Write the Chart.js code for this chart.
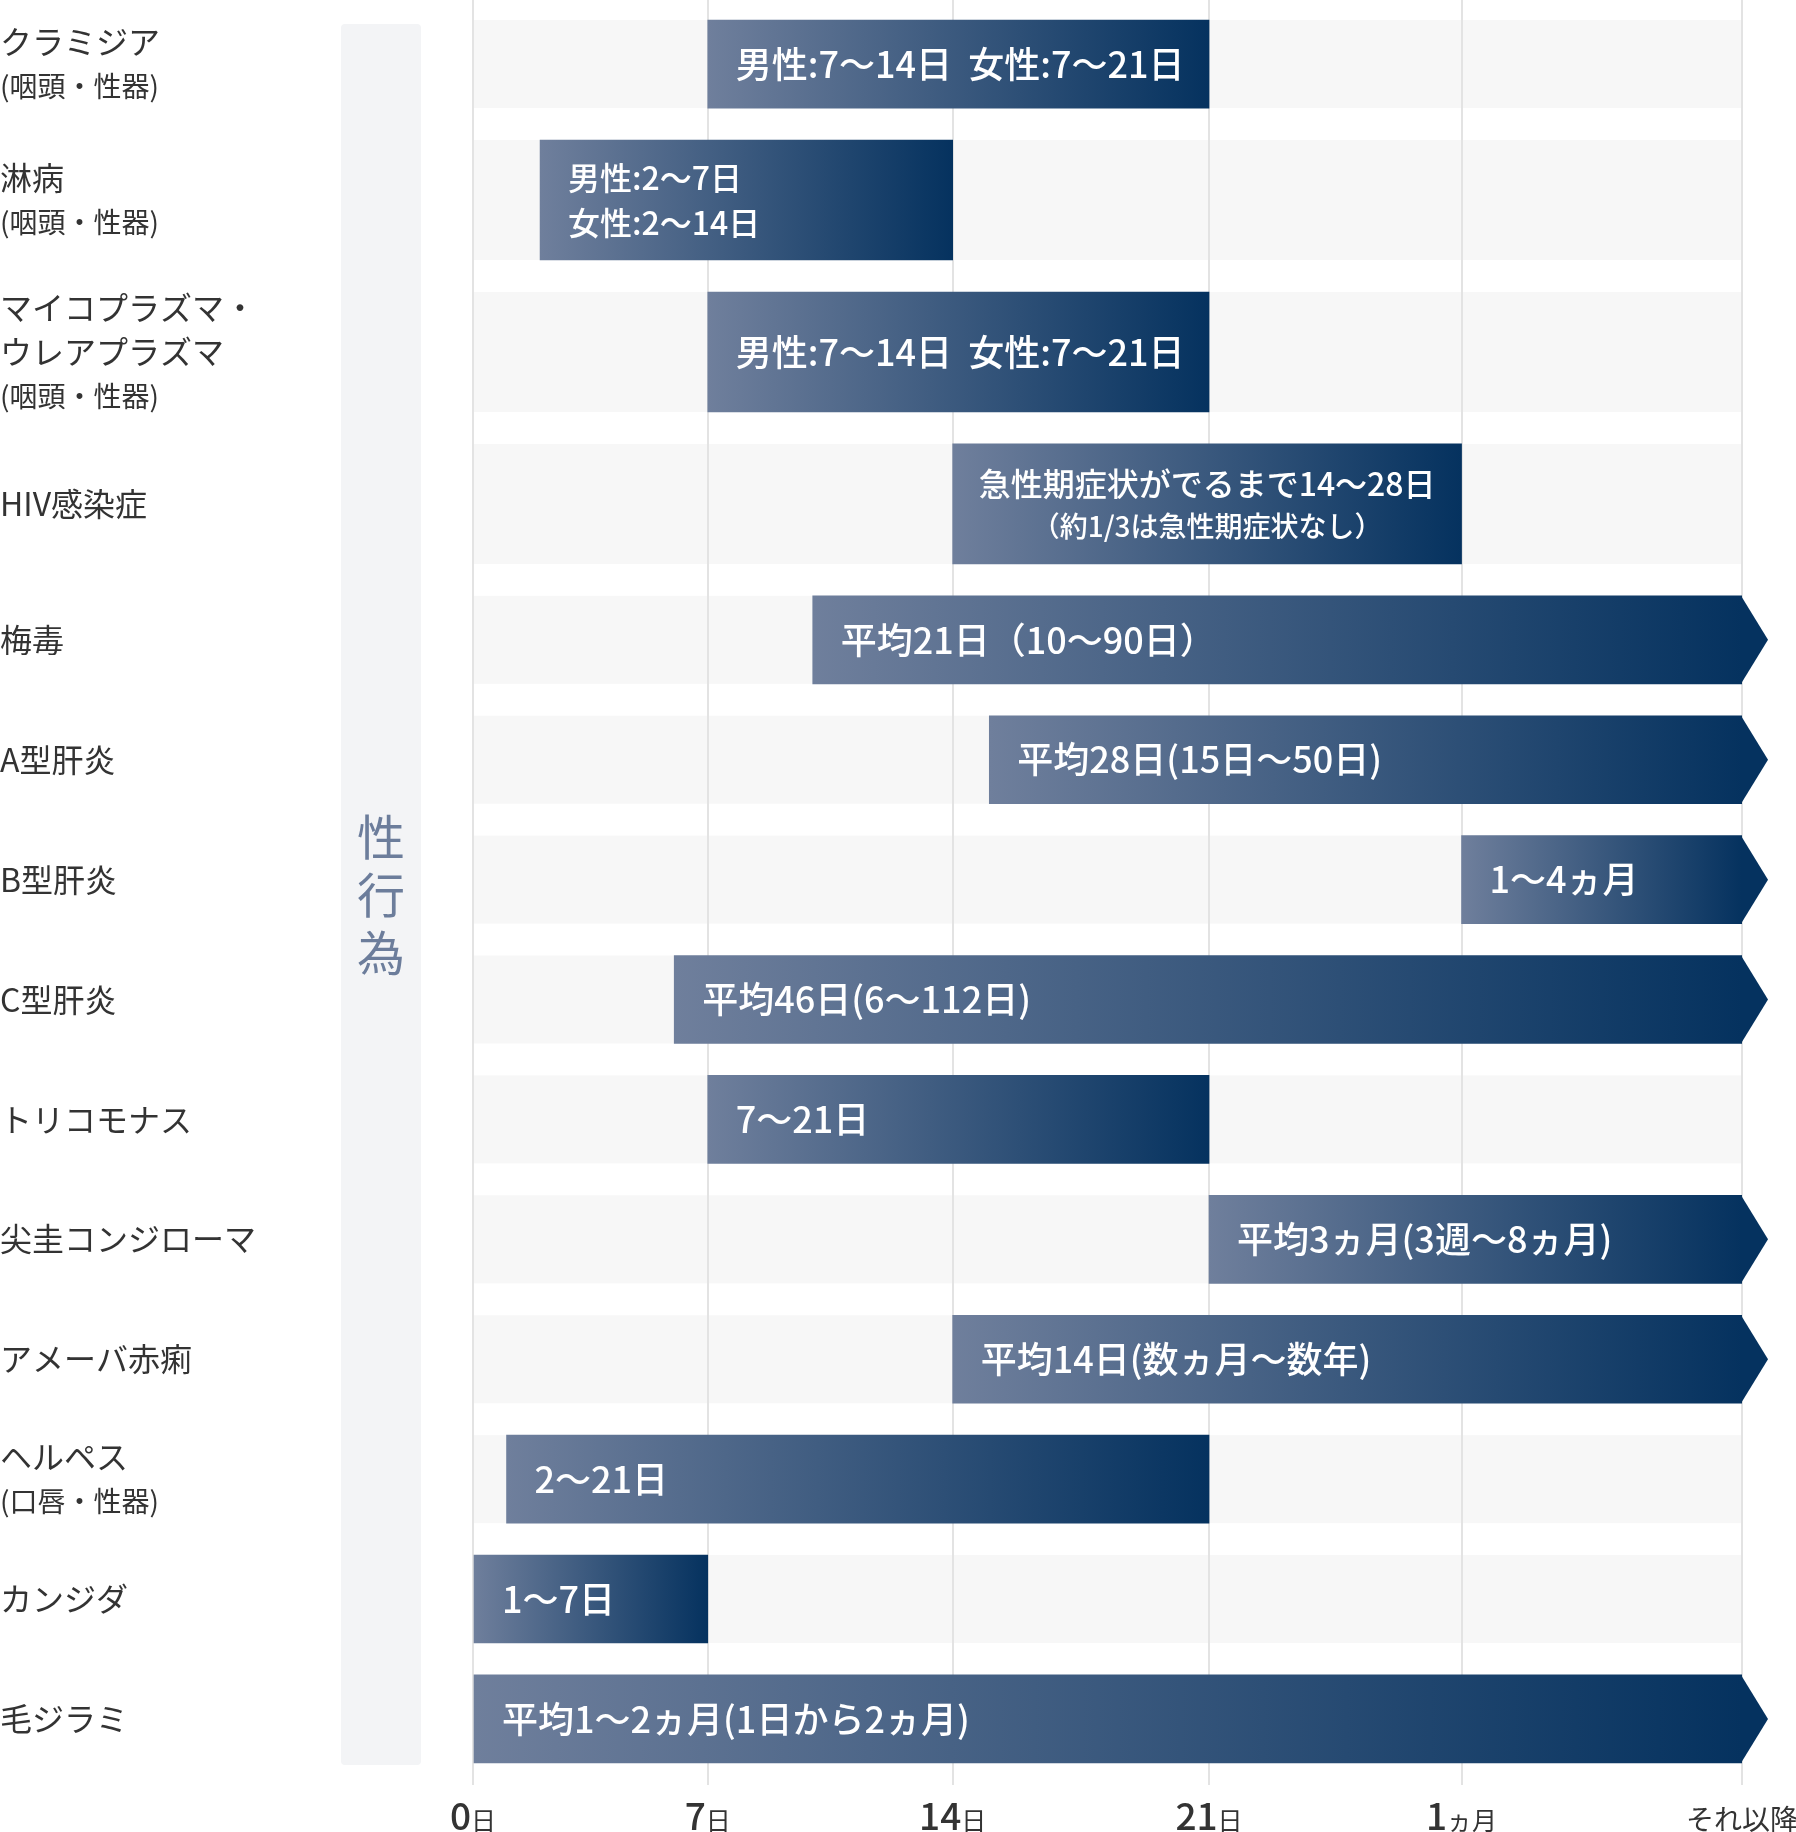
<!DOCTYPE html>
<html lang="ja">
<head>
<meta charset="utf-8">
<title>性感染症の潜伏期間</title>
<script src="https://cdn.jsdelivr.net/npm/chart.js@4.4.1/dist/chart.umd.min.js"></script>
<style>
  html, body { margin: 0; padding: 0; background: #fff; }
  #wrap { width: 1796px; height: 1832px; }
</style>
</head>
<body>
<div id="wrap"><canvas id="incubation" width="1796" height="1832"></canvas></div>
<script>
const diseases = [
  'クラミジア\n(咽頭・性器)',
  '淋病\n(咽頭・性器)',
  'マイコプラズマ・\nウレアプラズマ\n(咽頭・性器)',
  'HIV感染症',
  '梅毒',
  'A型肝炎',
  'B型肝炎',
  'C型肝炎',
  'トリコモナス',
  '尖圭コンジローマ',
  'アメーバ赤痢',
  'ヘルペス\n(口唇・性器)',
  'カンジダ',
  '毛ジラミ'
];
const barTexts = [
  '男性:7〜14日  女性:7〜21日',
  '男性:2〜7日\n女性:2〜14日',
  '男性:7〜14日  女性:7〜21日',
  '急性期症状がでるまで14〜28日\n（約1/3は急性期症状なし）',
  '平均21日（10〜90日）',
  '平均28日(15日〜50日)',
  '1〜4ヵ月',
  '平均46日(6〜112日)',
  '7〜21日',
  '平均3ヵ月(3週〜8ヵ月)',
  '平均14日(数ヵ月〜数年)',
  '2〜21日',
  '1〜7日',
  '平均1〜2ヵ月(1日から2ヵ月)'
];
// days from infection, as placed in the picture (36.5 = "それ以降")
const startDays = [7, 2, 7, 14, 10, 15, 28.5, 6, 7, 21, 14, 1, 0, 0];
const endDays = [21, 14, 21, 28.5, 36.5, 36.5, 36.5, 36.5, 21, 36.5, 36.5, 21, 7, 36.5];
const tickDays = [0, 7, 14, 21, 28.5, 36.5];
const tickNumbers = ['0', '7', '14', '21', '1', ''];
const tickUnits = ['日', '日', '日', '日', 'ヵ月', 'それ以降'];
const groupLabel = '性行為';

const FONT = '"Noto Sans CJK JP", "Noto Sans", sans-serif';
const lastDay = tickDays[tickDays.length - 1];
const colorStart = '#6f7f9c';
const colorEnd = '#05325f';

// the period axis is not uniform: each tick sits at its own share of the width
const tickSpots = [0, 0.185, 0.378, 0.58, 0.779, 1];

function dayToDecimal(v) {
  if (v <= tickDays[0]) return tickSpots[0];
  for (let k = 1; k < tickDays.length; k++) {
    if (v <= tickDays[k]) {
      const t = (v - tickDays[k - 1]) / (tickDays[k] - tickDays[k - 1]);
      return tickSpots[k - 1] + t * (tickSpots[k] - tickSpots[k - 1]);
    }
  }
  return 1;
}

function decimalToDay(d) {
  for (let k = 1; k < tickSpots.length; k++) {
    if (d <= tickSpots[k]) {
      const t = (d - tickSpots[k - 1]) / (tickSpots[k] - tickSpots[k - 1]);
      return tickDays[k - 1] + t * (tickDays[k] - tickDays[k - 1]);
    }
  }
  return lastDay;
}

class PeriodScale extends Chart.LinearScale {
  static id = 'period';
  static defaults = {};
  getPixelForValue(value) {
    if (value === null || value === undefined) return NaN;
    return this.getPixelForDecimal(dayToDecimal(value));
  }
  getValueForPixel(pixel) {
    return decimalToDay(this.getDecimalForPixel(pixel));
  }
}
Chart.register(PeriodScale);

// rows with a two-line bar text or a three-line label are taller
const rowHeights = diseases.map((d, i) =>
  (barTexts[i].split('\n').length > 1 || d.split('\n').length > 2) ? 120 : 88);
const rowGap = 31.7;
const rowCenters = [];
let rowTop = 20;
rowHeights.forEach(h => { rowCenters.push(rowTop + h / 2); rowTop += h + rowGap; });
const yMax = rowTop - rowGap + 2;

function rowPoints(tall) {
  const pts = [];
  diseases.forEach((d, i) => {
    if ((rowHeights[i] > 88) === tall) {
      pts.push({ x: [startDays[i], endDays[i]], y: rowCenters[i], row: i });
    }
  });
  return pts;
}

function barGradient(c) {
  const chart = c.chart;
  if (c.type !== 'data' || !chart.chartArea) return colorEnd;
  const xs = chart.scales.x;
  const x0 = xs.getPixelForValue(c.raw.x[0]);
  const x1 = xs.getPixelForValue(c.raw.x[1]);
  const g = chart.ctx.createLinearGradient(x0, 0, x1, 0);
  g.addColorStop(0, colorStart);
  g.addColorStop(1, colorEnd);
  return g;
}

const decor = {
  id: 'decor',
  beforeDraw(chart) {
    const { ctx, scales: { x, y } } = chart;
    ctx.save();

    // row backgrounds
    ctx.fillStyle = '#f7f7f7';
    const xl = x.getPixelForValue(0);
    const xr = x.getPixelForValue(lastDay);
    rowCenters.forEach((c, i) => {
      const yc = y.getPixelForValue(c);
      ctx.fillRect(xl, yc - rowHeights[i] / 2, xr - xl, rowHeights[i]);
    });

    // "性行為" band
    const bandTop = y.getPixelForValue(rowCenters[0]) - rowHeights[0] / 2 + 4;
    const last = rowCenters.length - 1;
    const bandBottom = y.getPixelForValue(rowCenters[last]) + rowHeights[last] / 2 + 2;
    ctx.fillStyle = '#f3f4f6';
    ctx.beginPath();
    if (ctx.roundRect) ctx.roundRect(341, bandTop, 80, bandBottom - bandTop, 4);
    else ctx.rect(341, bandTop, 80, bandBottom - bandTop);
    ctx.fill();
    ctx.fillStyle = '#6c7d9b';
    ctx.font = '400 48px ' + FONT;
    ctx.textAlign = 'center';
    ctx.textBaseline = 'middle';
    const chars = [...groupLabel];
    const mid = (bandTop + bandBottom) / 2;
    chars.forEach((ch, k) => {
      ctx.fillText(ch, 381, mid + (k - (chars.length - 1) / 2) * 58);
    });

    // disease labels
    ctx.fillStyle = '#333';
    ctx.textAlign = 'left';
    diseases.forEach((d, i) => {
      const lines = d.split('\n');
      const yc = y.getPixelForValue(rowCenters[i]);
      lines.forEach((line, k) => {
        ctx.font = (line.startsWith('(') ? '400 28px ' : '400 32px ') + FONT;
        ctx.fillText(line, 0, yc + (k - (lines.length - 1) / 2) * 44);
      });
    });
    ctx.restore();
  },
  afterDatasetsDraw(chart) {
    const ctx = chart.ctx;
    ctx.save();
    chart.data.datasets.forEach((ds, di) => {
      chart.getDatasetMeta(di).data.forEach((el, j) => {
        const i = ds.data[j].row;
        const { x, y, base, height } = el.getProps(['x', 'y', 'base', 'height'], true);

        // open-ended periods get an arrow head
        if (endDays[i] >= lastDay) {
          ctx.fillStyle = colorEnd;
          ctx.beginPath();
          ctx.moveTo(x - 1, y - height / 2);
          ctx.lineTo(x + 26, y);
          ctx.lineTo(x - 1, y + height / 2);
          ctx.closePath();
          ctx.fill();
        }

        const lines = barTexts[i].split('\n');
        const single = lines.length === 1;
        const sizes = lines.map(l => l.startsWith('（') ? 28 : (single ? 36 : 32));
        const centred = lines.length > 1 && lines[1].startsWith('（');
        const total = sizes.reduce((s, f) => s + f * 1.4, 0);
        let yy = y - total / 2;
        ctx.fillStyle = '#fff';
        ctx.textBaseline = 'middle';
        ctx.textAlign = centred ? 'center' : 'left';
        lines.forEach((line, k) => {
          const lh = sizes[k] * 1.4;
          ctx.font = '500 ' + sizes[k] + 'px ' + FONT;
          ctx.fillText(line, centred ? (base + x) / 2 : base + 28, yy + lh / 2);
          yy += lh;
        });
      });
    });
    ctx.restore();
  },
  afterDraw(chart) {
    const { ctx, scales: { x }, chartArea } = chart;
    ctx.save();
    ctx.fillStyle = '#333';
    ctx.textBaseline = 'alphabetic';
    ctx.textAlign = 'left';
    const baseY = chartArea.bottom + 65;
    tickDays.forEach((v, i) => {
      const px = x.getPixelForValue(v);
      const numFont = '500 37px ' + FONT;
      const unitFont = (tickNumbers[i] ? '400 25px ' : '400 28px ') + FONT;
      ctx.font = numFont;
      const wn = ctx.measureText(tickNumbers[i]).width;
      ctx.font = unitFont;
      const wu = ctx.measureText(tickUnits[i]).width;
      const sx = px - (wn + wu) / 2;
      ctx.font = numFont;
      ctx.fillText(tickNumbers[i], sx, baseY);
      ctx.font = unitFont;
      ctx.fillText(tickUnits[i], sx + wn, baseY);
    });
    ctx.restore();
  }
};

const chart = new Chart(document.getElementById('incubation'), {
  type: 'bar',
  data: {
    datasets: [
      { data: rowPoints(false), barThickness: 88, stack: 'rows', backgroundColor: barGradient, borderWidth: 0 },
      { data: rowPoints(true), barThickness: 120, stack: 'rows', backgroundColor: barGradient, borderWidth: 0 }
    ]
  },
  options: {
    indexAxis: 'y',
    responsive: false,
    animation: false,
    events: [],
    layout: { padding: { left: 473, right: 54, top: 0, bottom: 47 } },
    plugins: { legend: { display: false }, tooltip: { enabled: false } },
    scales: {
      x: {
        type: 'period',
        min: 0,
        max: lastDay,
        stacked: false,
        afterBuildTicks: scale => { scale.ticks = tickDays.map(v => ({ value: v })); },
        grid: { color: '#e3e3e3', lineWidth: 2, tickColor: '#e3e3e3', tickLength: 20 },
        border: { display: false },
        ticks: { display: false }
      },
      y: {
        type: 'linear',
        reverse: true,
        min: 0,
        max: yMax,
        offset: false,
        display: false
      }
    }
  },
  plugins: [decor]
});
</script>
</body>
</html>
